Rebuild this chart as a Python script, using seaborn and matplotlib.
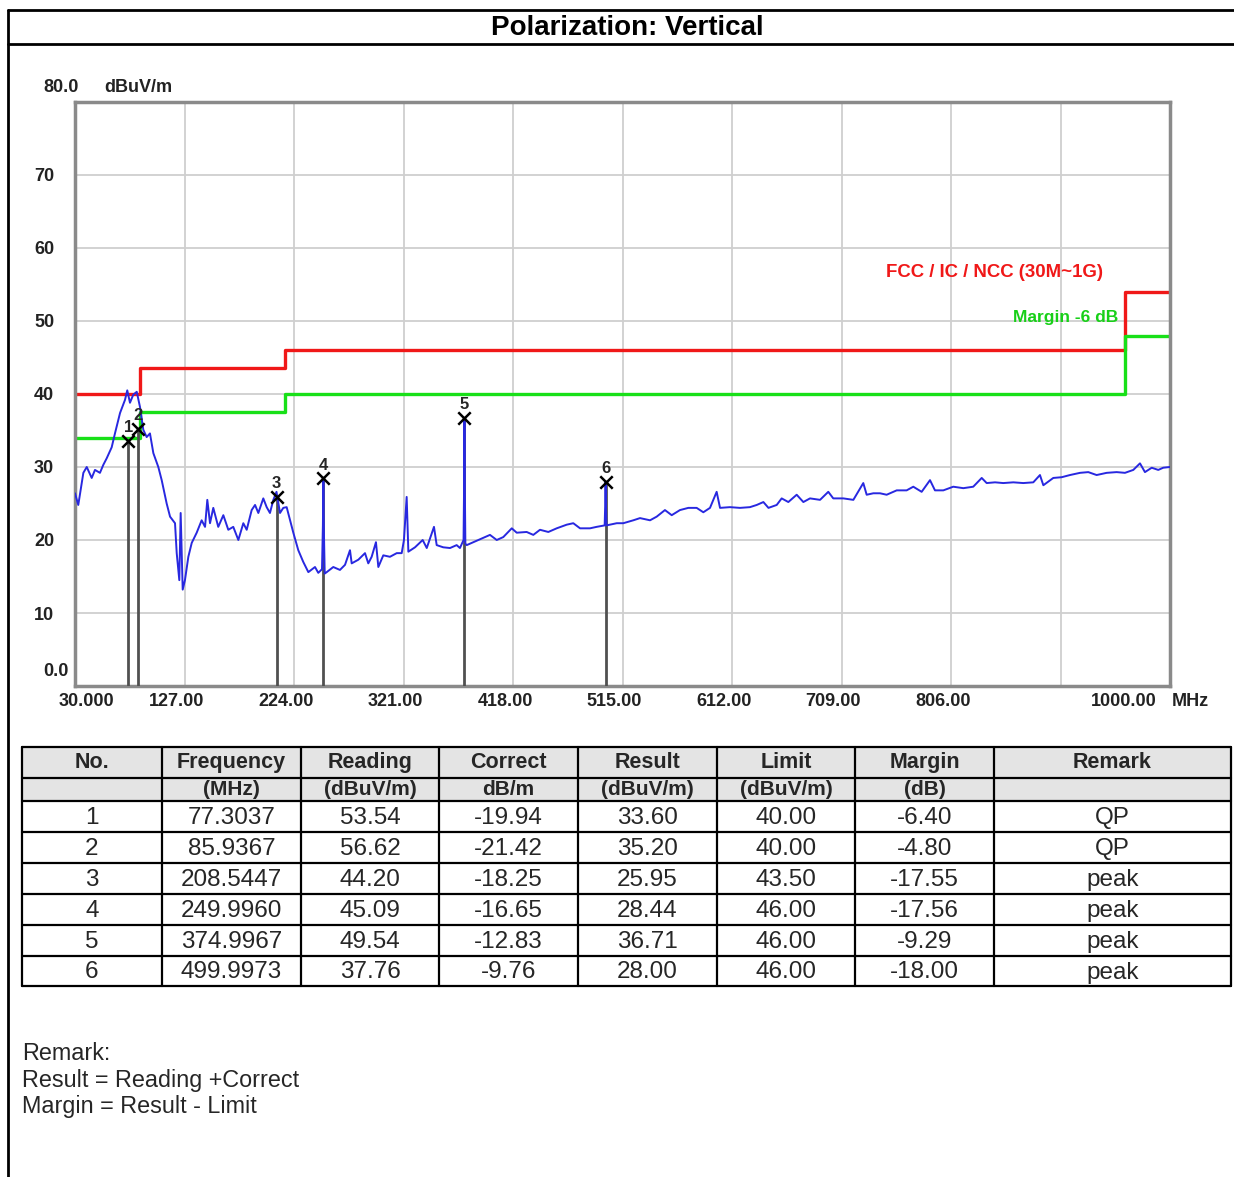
import numpy as np
import pandas as pd
import matplotlib
matplotlib.use("Agg")
import matplotlib.pyplot as plt
import matplotlib.transforms as mtransforms
import seaborn as sns

# spectrum trace (MHz / dBuV/m)
trace_freq = [30.0, 32.9, 37.4, 40.4, 44.8, 47.7, 52.1, 55.1, 58.1, 62.5, 65.4, 69.9,
              74.3, 76.3, 78.7, 81.6, 84.7, 87.6, 90.5, 93.5, 96.4, 99.4, 103.8, 106.8,
              111.2, 114.2, 118.6, 120.1, 122.4, 123.6, 125.4, 127.4, 130.4, 133.4, 137.8,
              142.2, 145.2, 147.2, 149.6, 152.5, 156.9, 161.4, 165.8, 170.2, 174.7, 179.1,
              182.1, 186.5, 189.5, 192.4, 196.8, 199.8, 202.7, 205.7, 208.5, 211.6, 214.5,
              217.5, 220.5, 223.4, 227.8, 232.2, 236.7, 242.6, 245.5, 248.8, 249.6, 250.0,
              250.4, 251.2, 253.0, 258.8, 264.7, 269.2, 273.6, 275.1, 281.0, 286.9, 289.8,
              292.8, 296.6, 298.7, 303.1, 309.0, 315.0, 319.4, 321.4, 323.8, 325.3, 331.2,
              338.0, 341.6, 348.0, 350.4, 356.2, 362.2, 368.1, 371.0, 374.2, 374.7, 375.0,
              375.3, 375.8, 377.0, 382.9, 390.3, 397.6, 403.6, 409.4, 416.9, 421.3, 430.1,
              436.0, 441.9, 449.3, 456.7, 465.6, 471.4, 477.4, 486.2, 492.1, 499.2, 499.7,
              500.0, 500.3, 500.8, 503.9, 509.9, 515.7, 524.6, 530.5, 539.4, 545.3, 552.6,
              558.6, 565.9, 573.3, 580.7, 586.6, 592.5, 598.4, 601.4, 610.2, 619.1, 627.9,
              633.9, 639.8, 644.3, 651.6, 656.0, 661.9, 669.3, 675.2, 681.1, 690.0, 697.3,
              701.7, 710.6, 719.5, 728.3, 731.3, 737.2, 743.1, 749.0, 757.9, 766.7, 772.6,
              780.0, 787.4, 791.8, 799.2, 808.0, 816.9, 825.7, 833.2, 837.6, 845.0, 852.3,
              861.2, 870.0, 878.9, 884.8, 887.8, 896.6, 904.0, 911.4, 920.3, 927.6, 935.0,
              943.9, 952.7, 960.1, 967.5, 973.4, 977.8, 983.8, 989.6, 994.0, 1000.0]
trace_level = [26.4, 24.8, 29.2, 30.0, 28.5, 29.6, 29.2, 30.3, 31.2, 32.7, 34.6, 37.4,
               39.2, 40.5, 38.8, 39.9, 40.3, 38.2, 35.1, 34.1, 34.6, 31.9, 30.0, 28.2,
               25.0, 23.2, 22.3, 18.2, 14.5, 23.7, 13.2, 14.5, 17.7, 19.6, 21.0,
               22.7, 21.8, 25.5, 22.3, 24.4, 21.8, 23.4, 21.4, 21.8, 20.0, 22.3,
               21.4, 24.1, 24.8, 23.7, 25.7, 24.5, 23.7, 25.5, 26.6, 23.7, 24.4,
               24.5, 22.7, 21.0, 18.6, 17.0, 15.6, 16.3, 15.5, 16.0, 22.0, 28.4,
               22.0, 15.4, 15.6, 16.3, 15.9, 16.6, 18.6, 16.8, 17.3, 18.2, 16.8,
               17.7, 19.7, 16.3, 17.9, 17.7, 18.2, 18.2, 20.0, 25.9, 18.4, 19.0,
               20.0, 18.9, 21.8, 19.3, 19.0, 18.9, 19.3, 18.9, 20.0, 27.9, 36.7,
               27.9, 19.5, 19.3, 19.7, 20.2, 20.7, 20.0, 20.4, 21.6, 21.0, 21.1,
               20.7, 21.4, 21.1, 21.6, 22.1, 22.3, 21.6, 21.6, 21.8, 22.0, 25.0,
               28.0, 25.0, 22.0, 22.1, 22.3, 22.3, 22.7, 23.0, 22.7, 23.2, 24.1,
               23.4, 24.1, 24.4, 24.4, 23.8, 24.4, 26.6, 24.4, 24.5, 24.4, 24.5,
               24.8, 25.2, 24.4, 24.8, 25.7, 25.2, 26.2, 25.2, 25.7, 25.5, 26.6,
               25.7, 25.7, 25.5, 27.8, 26.2, 26.4, 26.4, 26.2, 26.8, 26.8, 27.3,
               26.6, 28.2, 26.8, 26.8, 27.3, 27.1, 27.3, 28.5, 27.8, 27.9, 27.8,
               27.9, 27.8, 27.9, 28.9, 27.5, 28.5, 28.6, 28.9, 29.2, 29.3, 28.9,
               29.2, 29.3, 29.2, 29.6, 30.5, 29.3, 29.9, 29.6, 29.9, 30.0]

# limit line (FCC / IC / NCC) and margin line
limit_freq = [30, 88, 216, 960, 1000]
limit_level = [40.0, 43.5, 46.0, 54.0, 54.0]
margin_level = [34.0, 37.5, 40.0, 48.0, 48.0]

# marker table
mk_no = ["1", "2", "3", "4", "5", "6"]
mk_freq = ["77.3037", "85.9367", "208.5447", "249.9960", "374.9967", "499.9973"]
mk_reading = ["53.54", "56.62", "44.20", "45.09", "49.54", "37.76"]
mk_correct = ["-19.94", "-21.42", "-18.25", "-16.65", "-12.83", "-9.76"]
mk_result = ["33.60", "35.20", "25.95", "28.44", "36.71", "28.00"]
mk_limit = ["40.00", "40.00", "43.50", "46.00", "46.00", "46.00"]
mk_margin = ["-6.40", "-4.80", "-17.55", "-17.56", "-9.29", "-18.00"]
mk_remark = ["QP", "QP", "peak", "peak", "peak", "peak"]

head1 = ["No.", "Frequency", "Reading", "Correct", "Result", "Limit", "Margin", "Remark"]
head2 = ["", "(MHz)", "(dBuV/m)", "dB/m", "(dBuV/m)", "(dBuV/m)", "(dB)", ""]

x_ticks = [30, 127, 224, 321, 418, 515, 612, 709, 806, 903, 1000]
x_labels = ["30.000", "127.00", "224.00", "321.00", "418.00", "515.00",
            "612.00", "709.00", "806.00", "", "1000.00"]
y_ticks = [0, 10, 20, 30, 40, 50, 60, 70, 80]
y_labels = ["", "10", "20", "30", "40", "50", "60", "70", ""]

sns.set_theme(style="white")
plt.rcParams["font.family"] = ["Liberation Sans", "DejaVu Sans"]

W, H = 1234, 1177
fig = plt.figure(figsize=(W / 100, H / 100), dpi=100)
fig.patch.set_facecolor("white")

# page overlay in pixel coordinates (borders, title, table, remarks)
bg = fig.add_axes([0, 0, 1, 1])
bg.set_xlim(0, W)
bg.set_ylim(H, 0)
bg.axis("off")
bg.patch.set_alpha(0)

bg.plot([8, 8], [10, H], color="black", lw=2)
bg.plot([8, W], [10, 10], color="black", lw=2)
bg.plot([8, W], [44, 44], color="black", lw=2)
bg.text(627, 28, "Polarization: Vertical", ha="center", va="center",
        fontsize=20, fontweight="bold", color="black")

tick_font = dict(fontsize=13, fontweight="bold", color="#222222")
bg.text(79, 87, "80.0", ha="right", va="center", **tick_font)
bg.text(104, 87, "dBuV/m", ha="left", va="center", **tick_font)
bg.text(69, 671, "0.0", ha="right", va="center", **tick_font)

# table
col_edges = [22, 162, 301, 439, 578, 717, 855, 994, 1231]
row_edges = [747, 778, 801, 832, 863, 894, 925, 956, 986]
bg.fill_between([col_edges[0], col_edges[-1]], row_edges[0], row_edges[2],
                color="#e4e4e4", lw=0)
for yy in row_edges:
    bg.plot([col_edges[0], col_edges[-1]], [yy, yy], color="black", lw=1.6)
for xx in col_edges:
    bg.plot([xx, xx], [row_edges[0], row_edges[-1]], color="black", lw=1.6)

cols = [mk_no, mk_freq, mk_reading, mk_correct, mk_result, mk_limit, mk_margin, mk_remark]
for c in range(8):
    xc = (col_edges[c] + col_edges[c + 1]) / 2
    bg.text(xc, (row_edges[0] + row_edges[1]) / 2, head1[c], ha="center", va="center",
            fontsize=15.5, fontweight="bold")
    bg.text(xc, (row_edges[1] + row_edges[2]) / 2, head2[c], ha="center", va="center",
            fontsize=15, fontweight="bold")
    for r in range(6):
        yc = (row_edges[r + 2] + row_edges[r + 3]) / 2 + 1.5
        bg.text(xc, yc, cols[c][r], ha="center", va="center", fontsize=17.5)

for i, line in enumerate(["Remark:", "Result = Reading +Correct", "Margin = Result - Limit"]):
    bg.text(22, 1053 + 27 * i, line, ha="left", va="center", fontsize=16.8)

# chart
ax = fig.add_axes([75 / W, 1 - 686 / H, 1095 / W, 584 / H])
ax.set_facecolor("white")

sns.lineplot(x=limit_freq, y=limit_level, ax=ax, color="#f01818", lw=2.4,
             drawstyle="steps-post", estimator=None, sort=False)
sns.lineplot(x=limit_freq, y=margin_level, ax=ax, color="#18e018", lw=2.4,
             drawstyle="steps-post", estimator=None, sort=False)

res = [float(v) for v in mk_result]
fq = [float(v) for v in mk_freq]
ax.vlines(fq, 0, res, color="#505050", lw=2, zorder=3)
sns.lineplot(x=trace_freq, y=trace_level, ax=ax, color="#2828e0", lw=1.4,
             estimator=None, sort=False, zorder=4)
sns.scatterplot(x=fq, y=res, ax=ax, marker="x", s=80, color="black",
                linewidth=1.8, zorder=5)
for n, f, r in zip(mk_no, fq, res):
    ax.annotate(n, (f, r), xytext=(0, 4), textcoords="offset points",
                ha="center", va="bottom", fontsize=12, fontweight="bold", zorder=6)

ax.text(748, 56.6, "FCC / IC / NCC (30M~1G)", color="#f01818", ha="left",
        va="center", fontsize=13.4, fontweight="bold")
ax.text(954, 50.5, "Margin -6 dB", color="#18d018", ha="right",
        va="center", fontsize=12.5, fontweight="bold")

ax.set_xlim(30, 1000)
ax.set_ylim(0, 80)
ax.set_xticks(x_ticks)
ax.set_xticklabels([""] * len(x_ticks))
ax.set_yticks(y_ticks)
ax.set_yticklabels(y_labels, **tick_font)
ax.tick_params(axis="both", length=0)
ax.tick_params(axis="y", pad=15)
ax.grid(True, color="#cfcfcf", lw=1.3)
for sp in ax.spines.values():
    sp.set_color("#8a8a8a")
    sp.set_linewidth(2.5)

trans = mtransforms.blended_transform_factory(ax.transData, ax.transAxes)
for i, (t, lab) in enumerate(zip(x_ticks, x_labels)):
    if i == 0:
        dx, ha = 11, "center"
    elif i == len(x_ticks) - 1:
        dx, ha = -13, "right"
    else:
        dx, ha = -8, "center"
    off = mtransforms.ScaledTranslation(dx / 100, -15 / 100, fig.dpi_scale_trans)
    ax.text(t, 0, lab, transform=trans + off, ha=ha, va="center", **tick_font)
off = mtransforms.ScaledTranslation(2 / 100, -15 / 100, fig.dpi_scale_trans)
ax.text(1000, 0, "MHz", transform=trans + off, ha="left", va="center", **tick_font)

fig.savefig("out.png", dpi=100)
